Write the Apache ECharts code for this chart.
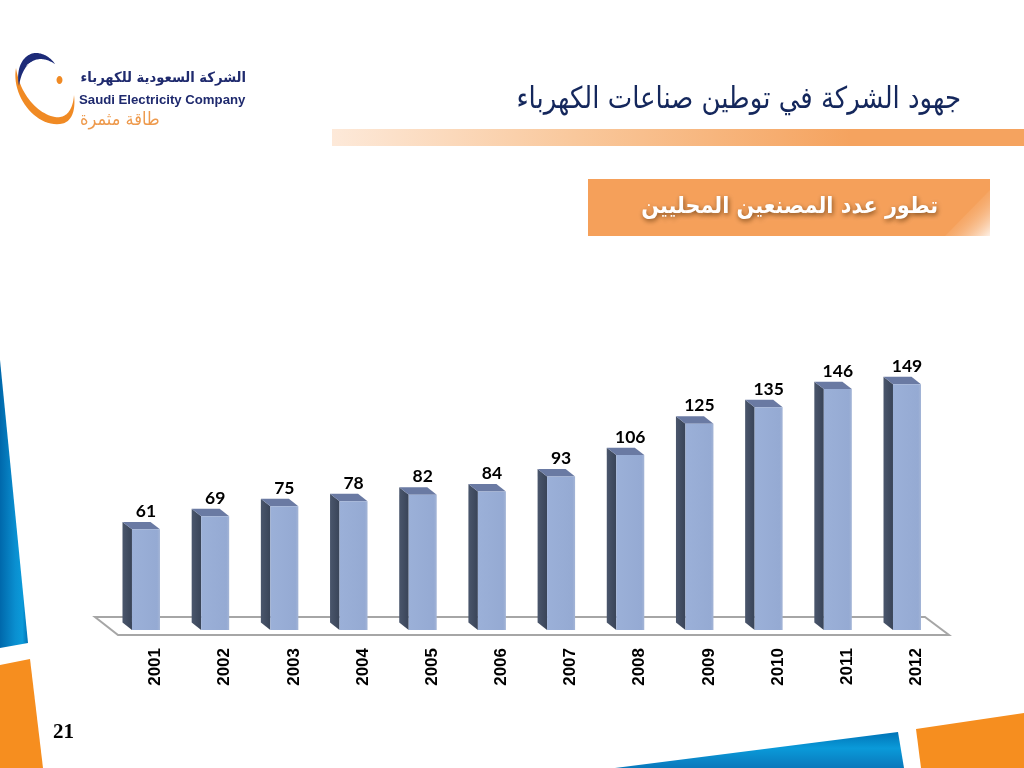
<!DOCTYPE html>
<html><head><meta charset="utf-8">
<style>html,body{margin:0;padding:0;background:#fff}#c{width:1024px;height:768px}</style>
<script src="https://cdn.jsdelivr.net/npm/echarts@6/dist/echarts.min.js"></script>
</head><body><div id="c"></div>
<script>
const years = ['2001','2002','2003','2004','2005','2006','2007','2008','2009','2010','2011','2012'];
const manufacturers = [61,69,75,78,82,84,93,106,125,135,146,149];
const slideTitle = 'جهود الشركة في توطين صناعات الكهرباء';
const chartTitle = 'تطور عدد المصنعين المحليين';
const companyAr = 'الشركة السعودية للكهرباء';
const companyEn = 'Saudi Electricity Company';
const sloganAr = 'طاقة مثمرة';
const pageNumber = '21';

const lg = (x,y,x2,y2,stops)=>({type:'linear',x,y,x2,y2,colorStops:stops.map(c=>({offset:c[0],color:c[1]}))});
const poly = (pts,fill,extra)=>Object.assign({type:'polygon',shape:{points:pts},style:{fill}},extra||{});
// closed outline made of cubic curves: start point, then [c1x,c1y,c2x,c2y,x,y] segments
function curveShape(start,segs){
  const pts=[start];let p=start;
  segs.forEach(s=>{for(let k=1;k<=24;k++){const t=k/24,u=1-t;
    pts.push([u*u*u*p[0]+3*u*u*t*s[0]+3*u*t*t*s[2]+t*t*t*s[4],u*u*u*p[1]+3*u*u*t*s[1]+3*u*t*t*s[3]+t*t*t*s[5]]);}
    p=[s[4],s[5]];});
  return pts;
}
const blueH = lg(0,0,1,0,[[0,'#0068ab'],[0.55,'#0a8fd0'],[0.8,'#0b9ad9'],[1,'#0071b4']]);
const blueV = lg(0,0,0,1,[[0,'#0073b6'],[0.45,'#0a9ad9'],[1,'#0a78bb']]);

const chart = echarts.init(document.getElementById('c'),null,{renderer:'canvas'});
chart.setOption({
  animation:false,
  backgroundColor:'#fff',
  grid:{left:120.9,width:830.2,top:366,height:264},
  xAxis:{type:'category',data:years,axisLine:{show:false},axisTick:{show:false},
    axisLabel:{rotate:90,margin:18,interval:0,color:'#000',fontFamily:'Liberation Sans',fontWeight:'bold',fontSize:17}},
  yAxis:{type:'value',min:0,max:160,show:false,splitLine:{show:false}},
  graphic:{elements:[
    poly([[0,360],[28,643],[0,648]],blueH),
    poly([[0,665],[30,659],[43,768],[0,768]],'#f68e1f'),
    poly([[615,768],[898,732],[904,768]],blueV),
    poly([[916,729],[1024,713],[1024,768],[921,768]],'#f68e1f'),
    {type:'rect',shape:{x:332,y:129,width:692,height:17},style:{fill:lg(0,0,1,0,[[0,'#fde9d9'],[0.35,'#f9c89c'],[0.75,'#f5a35f'],[1,'#f5a35f']])}},
    {type:'text',x:961,y:100,scaleX:0.865,style:{text:slideTitle,fill:'#14275c',font:'30px "DejaVu Sans"',align:'right',verticalAlign:'middle'}},
    {type:'rect',shape:{x:588,y:179,width:402,height:57},style:{fill:'#f5a05a'}},
    poly([[990,190],[990,236],[945,236]],lg(0.3,0.3,1,1,[[0,'rgba(245,160,90,0)'],[1,'rgba(255,255,255,0.85)']])),
    {type:'text',x:938,y:207,scaleX:0.905,style:{text:chartTitle,fill:'#fff',font:'bold 23px "DejaVu Sans"',align:'right',verticalAlign:'middle',textShadowColor:'rgba(90,50,10,0.75)',textShadowBlur:5,textShadowOffsetX:1,textShadowOffsetY:2}},
    poly([[95,617],[925,617],[949,635],[118,635]],'#fff',{style:{fill:'#fff',stroke:'#a6a6a6',lineWidth:2}}),
    poly(curveShape([16,68],[[11,95,35,127,60,124],[71,123,76,112,74,95],[73,110,66,119,55,117],[38,114,20,95,16,68]]),'#f08a24'),
    poly(curveShape([19,86],[[15,66,25,53,36,53],[44,53,51,58,55,64],[47,59,41,58,35,60],[27,63,21,72,19,86]]),'#1d2b78'),
    poly(curveShape([26,66],[[31,60,41,59,50,62],[42,61,33,62,26,66]]),'#fff'),
    {type:'ellipse',shape:{cx:59.5,cy:80,rx:3,ry:4},style:{fill:'#f08a24'}},
    {type:'text',x:246,y:78,scaleX:0.94,style:{text:companyAr,fill:'#1f2a6e',font:'bold 14px "DejaVu Sans"',align:'right',verticalAlign:'middle'}},
    {type:'text',x:79,y:100,style:{text:companyEn,fill:'#1f2a6e',font:'bold 13.2px "Liberation Sans"',align:'left',verticalAlign:'middle'}},
    {type:'text',x:80,y:120,scaleX:0.9,style:{text:sloganAr,fill:'#ee9a4d',font:'18px "DejaVu Sans"',align:'left',verticalAlign:'middle'}},
    {type:'text',x:53,y:733,style:{text:pageNumber,fill:'#000',font:'bold 21px "Liberation Serif"',align:'left',verticalAlign:'middle'}}
  ]},
  series:[{
    type:'custom',
    clip:false,
    z:5,
    data:manufacturers.map((v,i)=>[i,v]),
    encode:{x:0,y:1},
    renderItem(params,api){
      const band = api.size([1,0])[0];
      const top = api.coord([api.value(0),api.value(1)]);
      const base = api.coord([api.value(0),0]);
      const w = band*0.405, shift = band*0.34;
      const dx = band*0.137, dy = band*0.108;
      const l = top[0]-shift, r = l+w, t = top[1], b = base[1];
      return {type:'group',children:[
        {type:'polygon',shape:{points:[[l-dx,t-dy],[l,t],[l,b],[l-dx,b-dy]]},style:{fill:lg(0,0,1,0,[[0,'#4a566c'],[1,'#394458']])}},
        {type:'polygon',shape:{points:[[l-dx,t-dy],[r-dx,t-dy],[r,t],[l,t]]},style:{fill:'#6a7aa3'}},
        {type:'rect',shape:{x:l,y:t,width:w,height:b-t},style:{fill:lg(0,0,1,0,[[0,'#9bb0d8'],[0.9,'#95aad3'],[1,'#a4b5d6']])}},
        {type:'text',x:(l+r)/2,y:t-18,style:{text:String(api.value(1)),fill:'#000',font:'bold 17.5px Lato',align:'center',verticalAlign:'middle'}}
      ]};
    }
  }]
});
</script></body></html>
